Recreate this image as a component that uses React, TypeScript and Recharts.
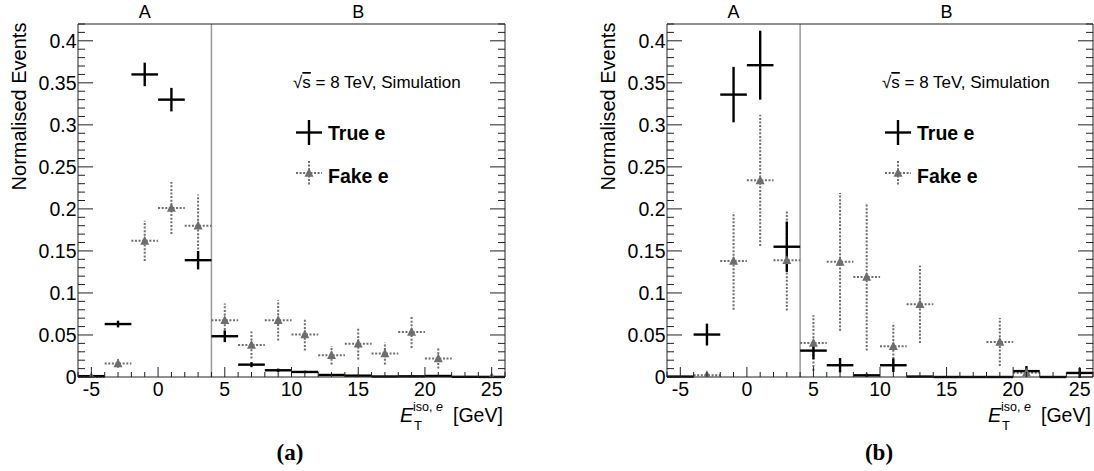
import React from 'react'
import { ScatterChart, Scatter, XAxis, YAxis, ErrorBar, ReferenceLine } from 'recharts'

// bin centres, 2 GeV wide bins from -6 to 26
const binCentres = [-5, -3, -1, 1, 3, 5, 7, 9, 11, 13, 15, 17, 19, 21, 23, 25]

// (a)
const trueA = [0.001, 0.063, 0.36, 0.33, 0.139, 0.0485, 0.0147, 0.008, 0.006, 0.0024, 0.0016, 0.0006, 0.0008, 0.0012, 0.0002, 0.0001]
const trueAErr = [0.001, 0.004, 0.014, 0.014, 0.011, 0.007, 0.003, 0.002, 0.0015, 0.001, 0.001, 0.0008, 0.0008, 0.001, 0.0005, 0.0005]
const fakeA = [0, 0.016, 0.162, 0.201, 0.18, 0.0675, 0.038, 0.0675, 0.0505, 0.026, 0.0397, 0.028, 0.0536, 0.022, null, 0]
const fakeAErr = [0, 0.005, 0.024, 0.031, 0.037, 0.02, 0.016, 0.024, 0.019, 0.011, 0.019, 0.013, 0.019, 0.012, null, 0]

// (b)
const trueB = [0.0005, 0.0505, 0.336, 0.371, 0.155, 0.0314, 0.014, 0.002, 0.014, 0.0005, 0, 0, 0, 0.007, 0, 0.0048]
const trueBErr = [0.0005, 0.013, 0.033, 0.041, 0.03, 0.01, 0.0085, 0.002, 0.008, 0.0005, 0, 0, 0, 0.006, 0, 0.006]
const fakeB = [null, 0.002, 0.138, 0.234, 0.139, 0.0405, 0.137, 0.119, 0.0365, 0.0865, null, null, 0.0417, 0.005, null, null]
const fakeBErr = [null, 0.002, 0.058, 0.078, 0.06, 0.033, 0.082, 0.0875, 0.028, 0.046, null, null, 0.0286, 0.005, null, null]

// region labels on top axis
const regions = [
  { x: -1, name: 'A' },
  { x: 15, name: 'B' },
]
const regionBoundary = 4

const xTicks = Array.from({ length: 33 }, (_, i) => i - 6)
const yTicks = Array.from({ length: 43 }, (_, i) => i / 100)

const FONT = '"Liberation Sans", Arial, Helvetica, sans-serif'
const AXIS = '#222'
const GREY = '#6e6e6e'

function toPoints(vals: (number | null)[], errs: (number | null)[]) {
  return binCentres
    .map((x, i) => (vals[i] == null ? null : { x, y: vals[i], ex: 1, ey: errs[i] }))
    .filter(Boolean) as { x: number; y: number; ex: number; ey: number }[]
}

const isMajorY = (v: number) => Math.round(v * 100) % 5 === 0

function BottomTick({ x, y, payload }: any) {
  const v = payload.value
  const major = v % 5 === 0
  return (
    <g>
      <line x1={x} x2={x} y1={y} y2={y - (major ? 10 : 5)} stroke={AXIS} />
      {major && (
        <text x={x} y={y + 18.5} textAnchor="middle" fontSize={19.5} fontFamily={FONT} fill="#000">
          {v}
        </text>
      )}
    </g>
  )
}

function TopTick({ x, y, payload }: any) {
  const major = payload.value % 5 === 0
  return <line x1={x} x2={x} y1={y} y2={y + (major ? 9 : 5)} stroke={AXIS} />
}

function LeftTick({ x, y, payload }: any) {
  const v = payload.value
  const major = isMajorY(v)
  return (
    <g>
      <line x1={x} x2={x + (major ? 15 : 7)} y1={y} y2={y} stroke={AXIS} />
      {major && (
        <text x={x - 1.5} y={y} dy="0.36em" textAnchor="end" fontSize={19.5} fontFamily={FONT} fill="#000">
          {String(Math.round(v * 100) / 100)}
        </text>
      )}
    </g>
  )
}

function RightTick({ x, y, payload }: any) {
  const major = isMajorY(payload.value)
  return <line x1={x} x2={x - (major ? 15 : 7)} y1={y} y2={y} stroke={AXIS} />
}

const Triangle = ({ cx, cy }: any) => (
  <polygon points={`${cx - 4.5},${cy + 3.8} ${cx + 4.5},${cy + 3.8} ${cx},${cy - 5}`} fill={GREY} />
)
const NoMarker = () => <g />

interface PanelProps {
  left: number
  width: number
  yAxisWidth: number
  rightAxisWidth: number
  marginRight: number
  trueData: { x: number; y: number; ex: number; ey: number }[]
  fakeData: { x: number; y: number; ex: number; ey: number }[]
  caption: string
}

function Panel({ left, width, yAxisWidth, rightAxisWidth, marginRight, trueData, fakeData, caption }: PanelProps) {
  const height = 471
  const plotLeft = yAxisWidth
  const plotRight = width - marginRight - rightAxisWidth
  const lx = plotLeft + 231
  return (
    <div style={{ position: 'absolute', left, top: 0, width, height }}>
      <ScatterChart width={width} height={height} margin={{ top: 0, right: marginRight, bottom: 64, left: 0 }}>
        <XAxis
          type="number"
          dataKey="x"
          domain={[-6, 26]}
          allowDataOverflow
          ticks={xTicks}
          interval={0}
          tickSize={0}
          tickMargin={0}
          tickLine={false}
          height={30}
          axisLine={{ stroke: AXIS }}
          tick={(p: any) => <BottomTick {...p} />}
        />
        <XAxis
          xAxisId="top"
          orientation="top"
          type="number"
          domain={[-6, 26]}
          allowDataOverflow
          ticks={xTicks}
          interval={0}
          tickSize={0}
          tickMargin={0}
          tickLine={false}
          height={24}
          axisLine={{ stroke: AXIS }}
          tick={(p: any) => <TopTick {...p} />}
        />
        <YAxis
          type="number"
          dataKey="y"
          domain={[0, 0.42]}
          allowDataOverflow
          ticks={yTicks}
          interval={0}
          tickSize={0}
          tickMargin={0}
          tickLine={false}
          width={yAxisWidth}
          axisLine={{ stroke: AXIS }}
          tick={(p: any) => <LeftTick {...p} />}
        />
        <YAxis
          yAxisId="right"
          orientation="right"
          type="number"
          domain={[0, 0.42]}
          allowDataOverflow
          ticks={yTicks}
          interval={0}
          tickSize={0}
          tickMargin={0}
          tickLine={false}
          width={rightAxisWidth}
          axisLine={{ stroke: AXIS }}
          tick={(p: any) => <RightTick {...p} />}
        />
        <ReferenceLine x={regionBoundary} stroke="#9a9a9a" strokeWidth={1.5} />
        {regions.map((r) => (
          <ReferenceLine
            key={r.name}
            x={r.x}
            stroke="none"
            label={{ value: r.name, position: 'top', offset: 6, fill: '#000', fontSize: 18, fontFamily: FONT }}
          />
        ))}
        <Scatter data={fakeData} shape={<Triangle />} isAnimationActive={false}>
          <ErrorBar dataKey="ex" direction="x" width={0} stroke={GREY} strokeWidth={2} strokeDasharray="2 1.6" isAnimationActive={false} />
          <ErrorBar dataKey="ey" direction="y" width={0} stroke={GREY} strokeWidth={2} strokeDasharray="2 1.6" isAnimationActive={false} />
        </Scatter>
        <Scatter data={trueData} shape={<NoMarker />} isAnimationActive={false}>
          <ErrorBar dataKey="ex" direction="x" width={0} stroke="#000" strokeWidth={2.4} isAnimationActive={false} />
          <ErrorBar dataKey="ey" direction="y" width={0} stroke="#000" strokeWidth={2.4} isAnimationActive={false} />
        </Scatter>
      </ScatterChart>

      <svg width={width} height={height} style={{ position: 'absolute', left: 0, top: 0, pointerEvents: 'none' }}>
        <text
          transform={`translate(${plotLeft - 51.6},106.5) rotate(-90)`}
          textAnchor="middle"
          fontSize={20}
          fontFamily={FONT}
          fill="#000"
        >
          Normalised Events
        </text>

        <g fontFamily={FONT} fill="#000">
          <text x={plotRight - 105} y={421.5} fontSize={20} fontStyle="italic">E</text>
          <text x={plotRight - 91} y={430} fontSize={13}>T</text>
          <text x={plotRight - 92} y={411} fontSize={12.5}>
            iso, <tspan fontStyle="italic">e</tspan>
          </text>
          <text x={plotRight - 52} y={421.5} fontSize={19.5}>[GeV]</text>
        </g>

        <g fontFamily={FONT} fill="#000">
          <text x={plotLeft + 215} y={88} fontSize={17}>
            √<tspan textDecoration="overline">s</tspan> = 8 TeV, Simulation
          </text>
          <line x1={lx - 13} x2={lx + 13} y1={132.5} y2={132.5} stroke="#000" strokeWidth={2.4} />
          <line x1={lx} x2={lx} y1={120} y2={145} stroke="#000" strokeWidth={2.4} />
          <text x={plotLeft + 250} y={140} fontSize={19.5} fontWeight="bold">True e</text>
          <line x1={lx - 13} x2={lx + 13} y1={173} y2={173} stroke={GREY} strokeWidth={2} strokeDasharray="2 1.6" />
          <line x1={lx} x2={lx} y1={161} y2={185} stroke={GREY} strokeWidth={2} strokeDasharray="2 1.6" />
          <Triangle cx={lx} cy={173} />
          <text x={plotLeft + 250} y={182.5} fontSize={19.5} fontWeight="bold">Fake e</text>
        </g>

        <text
          x={plotLeft + 212}
          y={460}
          textAnchor="middle"
          fontSize={23}
          fontWeight="bold"
          fontFamily='"Liberation Serif", "DejaVu Serif", serif'
          fill="#000"
        >
          {caption}
        </text>
      </svg>
    </div>
  )
}

export default function App() {
  return (
    <div style={{ position: 'absolute', left: 0, top: 0, width: 1094, height: 471, background: '#fff' }}>
      <Panel
        left={0}
        width={540}
        yAxisWidth={78}
        rightAxisWidth={30}
        marginRight={5}
        trueData={toPoints(trueA, trueAErr)}
        fakeData={toPoints(fakeA, fakeAErr)}
        caption="(a)"
      />
      <Panel
        left={540}
        width={554}
        yAxisWidth={127}
        rightAxisWidth={1}
        marginRight={0}
        trueData={toPoints(trueB, trueBErr)}
        fakeData={toPoints(fakeB, fakeBErr)}
        caption="(b)"
      />
    </div>
  )
}
